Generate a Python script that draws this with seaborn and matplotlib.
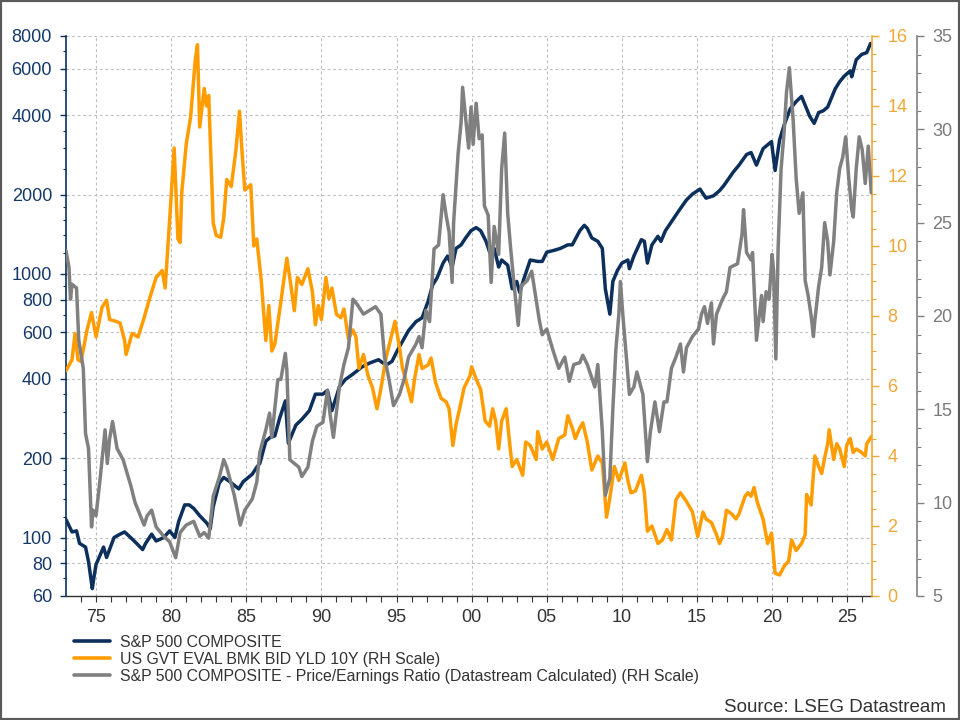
import numpy as np
import pandas as pd
import seaborn as sns
import matplotlib
matplotlib.use("Agg")
import matplotlib.pyplot as plt
from matplotlib.lines import Line2D
from matplotlib.patches import Rectangle
from matplotlib.ticker import FixedLocator, NullFormatter

# S&P 500 composite (left, log scale)
sp_years = [1973.0, 1973.4, 1973.7, 1973.9, 1974.3, 1974.5, 1974.75, 1974.85, 1975.0, 1975.5,
            1975.7, 1976.2, 1976.6, 1976.9, 1977.3, 1977.7, 1978.1, 1978.3, 1978.7, 1979.0,
            1979.5, 1979.9, 1980.25, 1980.5, 1980.9, 1981.2, 1981.5, 1981.9, 1982.4, 1982.6,
            1982.8, 1983.2, 1983.5, 1983.9, 1984.5, 1984.8, 1985.4, 1985.7, 1985.9, 1986.3,
            1986.6, 1986.9, 1987.2, 1987.6, 1987.8, 1988.3, 1988.7, 1989.2, 1989.6, 1990.1,
            1990.4, 1990.7, 1991.2, 1991.6, 1992.1, 1992.7, 1993.2, 1993.8, 1994.3, 1994.7,
            1995.06, 1995.4, 1995.8, 1996.3, 1996.7, 1997.1, 1997.4, 1997.7, 1998.1, 1998.4,
            1998.7, 1998.96, 1999.3, 1999.6, 1999.96, 2000.3, 2000.6, 2000.96, 2001.2, 2001.5,
            2001.8, 2002.0, 2002.4, 2002.7, 2003.0, 2003.2, 2003.5, 2003.9, 2004.4, 2004.7,
            2005.0, 2005.5, 2005.9, 2006.4, 2006.7, 2007.2, 2007.5, 2007.7, 2008.0, 2008.4,
            2008.7, 2008.9, 2009.2, 2009.4, 2009.7, 2010.0, 2010.4, 2010.5, 2010.8, 2011.3,
            2011.5, 2011.7, 2012.0, 2012.4, 2012.6, 2012.9, 2013.4, 2013.8, 2014.3, 2014.7,
            2015.2, 2015.6, 2016.1, 2016.5, 2016.8, 2017.4, 2017.8, 2018.3, 2018.6, 2018.96,
            2019.4, 2019.96, 2020.2, 2020.5, 2020.8, 2021.2, 2021.6, 2021.96, 2022.2, 2022.5,
            2022.8, 2023.1, 2023.4, 2023.7, 2023.8, 2024.2, 2024.5, 2024.8, 2025.2, 2025.3,
            2025.6, 2025.96, 2026.3, 2026.55]
sp_values = [117, 105, 106, 95, 92, 81, 64, 70, 79, 92,
             84, 100, 103, 105, 100, 95, 90, 95, 103, 97,
             100, 106, 100, 115, 133, 133, 129, 121, 113, 108,
             131, 161, 169, 163, 153, 163, 174, 185, 191, 232,
             240, 243, 281, 330, 228, 267, 281, 303, 350, 350,
             362, 303, 373, 398, 417, 444, 459, 473, 451, 466,
             513, 555, 610, 660, 682, 787, 907, 967, 1100, 1170,
             1063, 1250, 1290, 1370, 1460, 1500, 1460, 1330, 1210, 1250,
             1063, 1130, 1080, 879, 937, 851, 967, 1130, 1116, 1116,
             1210, 1230, 1250, 1290, 1290, 1460, 1530, 1490, 1370, 1330,
             1250, 879, 704, 937, 1030, 1100, 1130, 1047, 1170, 1350,
             1330, 1100, 1290, 1390, 1330, 1460, 1610, 1740, 1910, 2010,
             2100, 1940, 1980, 2070, 2170, 2430, 2590, 2840, 2890, 2590,
             2990, 3180, 2470, 3230, 3670, 4230, 4510, 4720, 4370, 3970,
             3730, 4100, 4160, 4300, 4440, 5040, 5370, 5630, 5900, 5600,
             6500, 6810, 6920, 7490]

# US 10Y benchmark yield (RH scale, %)
yld_years = [1973.0, 1973.4, 1973.6, 1973.8, 1974.0, 1974.4, 1974.7, 1975.0, 1975.4, 1975.7,
             1975.9, 1976.3, 1976.6, 1976.9, 1977.0, 1977.4, 1977.8, 1978.2, 1978.6, 1979.0,
             1979.4, 1979.6, 1979.9, 1980.2, 1980.45, 1980.6, 1980.7, 1981.0, 1981.3, 1981.6,
             1981.75, 1981.9, 1982.2, 1982.35, 1982.5, 1982.8, 1983.0, 1983.3, 1983.5, 1983.7,
             1984.0, 1984.3, 1984.55, 1984.7, 1984.9, 1985.3, 1985.5, 1985.7, 1986.0, 1986.3,
             1986.5, 1986.7, 1986.9, 1987.3, 1987.7, 1987.96, 1988.2, 1988.4, 1988.7, 1989.1,
             1989.4, 1989.6, 1989.8, 1990.0, 1990.3, 1990.5, 1990.7, 1991.0, 1991.3, 1991.5,
             1991.8, 1992.1, 1992.3, 1992.5, 1992.8, 1993.1, 1993.4, 1993.7, 1993.95, 1994.3,
             1994.7, 1994.9, 1995.2, 1995.4, 1995.6, 1996.0, 1996.2, 1996.5, 1996.7, 1997.1,
             1997.3, 1997.6, 1997.96, 1998.3, 1998.5, 1998.75, 1998.96, 1999.2, 1999.5, 1999.9,
             2000.0, 2000.3, 2000.6, 2000.9, 2001.2, 2001.4, 2001.6, 2001.8, 2002.0, 2002.3,
             2002.5, 2002.7, 2003.0, 2003.4, 2003.6, 2003.9, 2004.3, 2004.4, 2004.7, 2005.0,
             2005.4, 2005.8, 2006.2, 2006.4, 2006.7, 2006.9, 2007.2, 2007.4, 2007.7, 2008.0,
             2008.4, 2008.7, 2008.98, 2009.2, 2009.5, 2009.8, 2010.2, 2010.4, 2010.6, 2010.9,
             2011.3, 2011.5, 2011.7, 2012.0, 2012.4, 2012.7, 2013.0, 2013.3, 2013.6, 2013.9,
             2014.3, 2014.7, 2015.05, 2015.4, 2015.6, 2015.96, 2016.3, 2016.5, 2016.7, 2016.96,
             2017.3, 2017.6, 2017.8, 2018.2, 2018.4, 2018.6, 2018.8, 2019.0, 2019.4, 2019.7,
             2019.96, 2020.2, 2020.5, 2020.8, 2021.1, 2021.3, 2021.6, 2021.96, 2022.2, 2022.3,
             2022.6, 2022.75, 2022.85, 2023.1, 2023.3, 2023.5, 2023.7, 2023.8, 2024.1, 2024.3,
             2024.5, 2024.8, 2024.96, 2025.2, 2025.4, 2025.6, 2025.96, 2026.2, 2026.3, 2026.6]
yld_values = [6.44, 6.75, 7.5, 6.75, 6.7, 7.6, 8.1, 7.4, 8.25, 8.45,
              7.9, 7.85, 7.8, 7.3, 6.9, 7.5, 7.4, 7.95, 8.55, 9.1,
              9.3, 8.8, 10.75, 12.8, 10.2, 10.1, 11.5, 12.9, 13.7, 15.3,
              15.75, 13.4, 14.5, 14.0, 14.3, 10.65, 10.3, 10.25, 10.8, 11.9,
              11.7, 12.7, 13.85, 12.8, 11.6, 11.75, 10.0, 10.2, 9.0, 7.3,
              8.3, 7.0, 7.2, 8.4, 9.65, 8.9, 8.15, 9.1, 8.9, 9.35,
              8.7, 7.75, 8.3, 7.9, 9.1, 8.5, 8.8, 8.05, 7.95, 8.2,
              7.35, 7.6, 7.4, 6.5, 6.9, 6.3, 5.95, 5.35, 5.9, 6.8,
              7.5, 7.85, 7.1, 6.5, 6.2, 5.55, 6.2, 6.9, 6.5, 6.6,
              6.8, 6.1, 5.65, 5.55, 5.35, 4.3, 4.9, 5.35, 5.95, 6.3,
              6.55, 6.2, 5.9, 5.0, 4.85, 5.35, 5.0, 4.2, 5.0, 5.35,
              4.5, 3.7, 3.9, 3.45, 4.4, 4.3, 3.9, 4.7, 4.2, 4.4,
              3.9, 4.5, 4.6, 5.15, 4.8, 4.5, 4.8, 4.95, 4.4, 3.6,
              4.0, 3.8, 2.25, 2.8, 3.7, 3.3, 3.8, 3.3, 2.95, 3.0,
              3.45, 2.95, 1.85, 2.0, 1.5, 1.6, 1.9, 1.6, 2.75, 2.95,
              2.7, 2.4, 1.7, 2.4, 2.2, 2.1, 1.75, 1.5, 1.7, 2.45,
              2.35, 2.2, 2.35, 2.85, 2.95, 2.85, 3.1, 2.7, 2.2, 1.5,
              1.8, 0.65, 0.6, 0.85, 1.0, 1.6, 1.3, 1.5, 1.75, 2.9,
              2.6, 3.5, 4.0, 3.7, 3.5, 3.95, 4.35, 4.75, 3.9, 4.35,
              4.2, 3.7, 4.3, 4.5, 4.1, 4.2, 4.1, 4.0, 4.35, 4.55]

# S&P 500 price/earnings ratio (RH scale)
pe_years = [1973.0, 1973.2, 1973.3, 1973.4, 1973.7, 1973.85, 1974.15, 1974.3, 1974.5, 1974.7,
            1974.8, 1975.0, 1975.3, 1975.6, 1975.75, 1975.9, 1976.1, 1976.4, 1976.8, 1977.3,
            1977.6, 1977.9, 1978.2, 1978.4, 1978.7, 1979.0, 1979.5, 1979.9, 1980.3, 1980.6,
            1981.0, 1981.5, 1981.9, 1982.2, 1982.5, 1982.8, 1983.2, 1983.5, 1983.7, 1984.2,
            1984.6, 1984.9, 1985.4, 1985.7, 1985.9, 1986.3, 1986.55, 1986.7, 1987.1, 1987.3,
            1987.6, 1987.7, 1987.9, 1988.2, 1988.5, 1988.7, 1989.1, 1989.4, 1989.7, 1990.1,
            1990.4, 1990.6, 1990.8, 1991.2, 1991.5, 1991.8, 1992.1, 1992.4, 1992.8, 1993.2,
            1993.6, 1993.96, 1994.2, 1994.5, 1994.8, 1995.2, 1995.5, 1995.8, 1996.3, 1996.5,
            1996.7, 1996.96, 1997.2, 1997.5, 1997.8, 1998.1, 1998.3, 1998.5, 1998.7, 1998.8,
            1999.1, 1999.3, 1999.4, 1999.6, 1999.8, 1999.96, 2000.1, 2000.3, 2000.5, 2000.7,
            2000.85, 2001.1, 2001.3, 2001.5, 2001.8, 2002.0, 2002.2, 2002.4, 2002.6, 2002.8,
            2003.1, 2003.3, 2003.7, 2004.0, 2004.5, 2004.7, 2005.0, 2005.4, 2005.8, 2006.2,
            2006.5, 2006.8, 2007.2, 2007.4, 2007.7, 2008.2, 2008.4, 2008.7, 2008.9, 2009.2,
            2009.4, 2009.6, 2009.8, 2009.9, 2010.1, 2010.3, 2010.5, 2010.8, 2011.0, 2011.4,
            2011.7, 2011.9, 2012.2, 2012.5, 2012.8, 2013.0, 2013.3, 2013.6, 2013.9, 2014.1,
            2014.3, 2014.7, 2015.1, 2015.3, 2015.5, 2015.7, 2015.96, 2016.1, 2016.3, 2016.7,
            2016.96, 2017.2, 2017.7, 2018.0, 2018.1, 2018.3, 2018.6, 2018.7, 2018.96, 2019.3,
            2019.4, 2019.6, 2019.8, 2020.0, 2020.1, 2020.25, 2020.4, 2020.6, 2020.8, 2020.96,
            2021.15, 2021.4, 2021.6, 2021.8, 2022.05, 2022.2, 2022.4, 2022.6, 2022.75, 2022.85,
            2023.1, 2023.3, 2023.5, 2023.7, 2023.85, 2024.1, 2024.3, 2024.5, 2024.7, 2024.9,
            2025.1, 2025.3, 2025.4, 2025.6, 2025.8, 2026.0, 2026.2, 2026.4, 2026.6]
pe_values = [23.5, 22.6, 20.9, 21.7, 21.5, 18.7, 17.2, 13.7, 12.9, 8.7,
             9.6, 9.3, 11.5, 13.9, 12.1, 13.4, 14.35, 12.9, 12.3, 10.95,
             10.0, 9.4, 8.8, 9.3, 9.6, 8.7, 8.2, 7.9, 7.05, 8.4,
             8.8, 9.0, 8.2, 8.4, 8.1, 10.35, 11.35, 12.3, 11.9, 10.4,
             8.8, 9.6, 10.2, 11.1, 12.7, 13.9, 14.8, 13.5, 16.6, 16.6,
             18.0, 17.1, 12.3, 12.1, 11.9, 11.4, 11.9, 13.3, 14.1, 14.3,
             16.0, 14.6, 13.5, 16.2, 17.4, 18.3, 20.9, 20.6, 20.1, 20.3,
             20.5, 20.1, 17.8, 16.6, 15.2, 15.8, 16.6, 17.8, 18.5, 18.9,
             18.3, 20.3, 19.7, 23.6, 23.8, 26.5, 25.4, 24.5, 21.8, 25.0,
             28.7, 30.4, 32.25, 30.6, 29.0, 31.2, 29.2, 31.4, 29.5, 29.7,
             25.9, 25.4, 21.8, 24.8, 23.3, 27.9, 29.8, 25.5, 23.6, 21.9,
             19.5, 21.6, 21.9, 22.4, 19.8, 19.0, 19.3, 18.2, 17.2, 17.8,
             16.5, 17.4, 17.5, 17.9, 17.4, 16.2, 17.4, 13.8, 10.4, 11.3,
             15.0, 18.2, 20.1, 21.85, 19.7, 17.8, 15.8, 16.2, 17.0, 15.8,
             12.2, 13.8, 15.4, 13.8, 15.4, 15.4, 17.2, 17.8, 18.5, 17.0,
             18.3, 18.9, 19.3, 20.1, 20.5, 19.6, 20.7, 18.5, 20.1, 20.9,
             21.3, 22.6, 22.8, 24.4, 25.7, 23.4, 23.0, 23.4, 18.7, 21.1,
             19.7, 21.3, 20.9, 23.3, 22.4, 17.7, 23.6, 27.9, 29.85, 32.0,
             33.3, 30.5, 27.4, 25.5, 26.6, 21.9, 21.1, 20.0, 18.9, 19.8,
             21.6, 22.6, 25.0, 24.0, 22.2, 24.0, 26.6, 27.9, 28.5, 29.6,
             27.4, 25.7, 25.3, 27.9, 29.6, 28.9, 27.1, 29.1, 26.6]

year_ticks = [1975, 1980, 1985, 1990, 1995, 2000, 2005, 2010, 2015, 2020, 2025]
year_labels = ['75', '80', '85', '90', '95', '00', '05', '10', '15', '20', '25']
sp_ticks = [60, 80, 100, 200, 400, 600, 800, 1000, 2000, 4000, 6000, 8000]
sp_minor = [70, 90, 120, 140, 160, 180, 250, 300, 350, 500, 700, 900,
            1200, 1400, 1600, 1800, 2500, 3000, 3500, 5000, 7000]
yld_ticks = [0, 2, 4, 6, 8, 10, 12, 14, 16]
pe_ticks = [5, 10, 15, 20, 25, 30, 35]

legend_labels = ['S&P 500 COMPOSITE',
                 'US GVT EVAL BMK BID YLD 10Y (RH Scale)',
                 'S&P 500 COMPOSITE - Price/Earnings Ratio (Datastream Calculated) (RH Scale)']

NAVY = '#0c2f5c'
ORANGE = '#ff9c00'
GREY = '#808080'
ORANGE_AX = '#f2a637'
TXT = '#333333'

sns.set_style('white')
plt.rcParams['font.family'] = ['Liberation Sans', 'DejaVu Sans']

df_sp = pd.DataFrame({'year': sp_years, 'value': sp_values})
df_yld = pd.DataFrame({'year': yld_years, 'value': yld_values})
df_pe = pd.DataFrame({'year': pe_years, 'value': pe_values})

fig = plt.figure(figsize=(9.6, 7.2), dpi=100)
ax = fig.add_axes([66 / 960, 1 - 596 / 720, 806 / 960, 560 / 720])
ax2 = ax.twinx()
ax3 = ax.twinx()

sns.lineplot(data=df_sp, x='year', y='value', ax=ax, color=NAVY, linewidth=2.5)
sns.lineplot(data=df_yld, x='year', y='value', ax=ax2, color=ORANGE, linewidth=2.5)
sns.lineplot(data=df_pe, x='year', y='value', ax=ax3, color=GREY, linewidth=2.5)

for a in (ax, ax2, ax3):
    a.set_xlim(1973.0, 2026.65)
    a.set_xlabel('')
    a.set_ylabel('')
    for s in a.spines.values():
        s.set_visible(False)

# left log axis
ax.set_yscale('log')
ax.set_ylim(60, 8000)
ax.yaxis.set_major_locator(FixedLocator(sp_ticks))
ax.yaxis.set_minor_locator(FixedLocator(sp_minor))
ax.yaxis.set_minor_formatter(NullFormatter())
ax.set_yticks(sp_ticks)
ax.set_yticklabels([str(t) for t in sp_ticks])
ax.spines['left'].set_visible(True)
ax.spines['left'].set_color(NAVY)
ax.spines['left'].set_linewidth(1.2)
ax.tick_params(axis='y', which='major', direction='out', length=4, width=1, color=NAVY,
               labelcolor='#15396a', labelsize=13, pad=6, left=True)
ax.tick_params(axis='y', which='minor', direction='out', length=2.5, width=0.8, color=NAVY, left=True)

# bottom year axis
ax.set_xticks(year_ticks)
ax.set_xticklabels(year_labels)
ax.xaxis.set_minor_locator(FixedLocator(list(range(1974, 2027))))
ax.spines['bottom'].set_visible(True)
ax.spines['bottom'].set_color('#333333')
ax.spines['bottom'].set_linewidth(1.0)
ax.tick_params(axis='x', which='both', direction='out', length=4, width=0.8, color='#333333',
               labelcolor=TXT, labelsize=13, pad=5, bottom=True)

ax.grid(True, which='major', color='#bdbdbd', linestyle=(0, (2.5, 2.5)), linewidth=0.8)
ax.set_axisbelow(True)

# orange yield axis
ax2.set_ylim(0, 16)
ax2.set_yticks(yld_ticks)
ax2.yaxis.set_minor_locator(FixedLocator(list(np.arange(0, 16.5, 0.5))))
ax2.spines['right'].set_visible(True)
ax2.spines['right'].set_color(ORANGE_AX)
ax2.spines['right'].set_linewidth(1.2)
ax2.tick_params(axis='y', which='major', direction='out', length=5, width=1, color=ORANGE_AX,
                labelcolor=ORANGE_AX, labelsize=13, pad=6, right=True)
ax2.tick_params(axis='y', which='minor', direction='out', length=3, width=0.8, color=ORANGE_AX, right=True)
ax2.grid(False)

# grey P/E axis
ax3.set_ylim(5, 35)
ax3.set_yticks(pe_ticks)
ax3.yaxis.set_minor_locator(FixedLocator(list(range(5, 36))))
ax3.spines['right'].set_visible(True)
ax3.spines['right'].set_position(('axes', 1 + 45 / 806))
ax3.spines['right'].set_color(GREY)
ax3.spines['right'].set_linewidth(1.2)
ax3.tick_params(axis='y', which='major', direction='out', length=5, width=1, color=GREY,
                labelcolor='#7a7a7a', labelsize=13, pad=6, right=True)
ax3.tick_params(axis='y', which='minor', direction='out', length=3, width=0.8, color=GREY, right=True)
ax3.grid(False)

for a in (ax2, ax3):
    a.tick_params(axis='x', which='both', bottom=False, labelbottom=False)

handles = [Line2D([], [], color=c, linewidth=2.6) for c in (NAVY, ORANGE, GREY)]
leg = fig.legend(handles, legend_labels, loc='upper left', bbox_to_anchor=(74 / 960, 1 - 635 / 720),
                 frameon=False, fontsize=11.4, handlelength=2.3, handletextpad=0.6,
                 labelspacing=0.12, borderpad=0, borderaxespad=0)
for t in leg.get_texts():
    t.set_color(TXT)

fig.text(946 / 960, 1 - 708 / 720, 'Source: LSEG Datastream', ha='right', va='center',
         fontsize=13.5, color=TXT)

fig.patches.append(Rectangle((0, 0), 1, 1, transform=fig.transFigure, fill=False,
                             edgecolor='#5a5a5a', linewidth=3))

fig.savefig('out.png', dpi=100)
